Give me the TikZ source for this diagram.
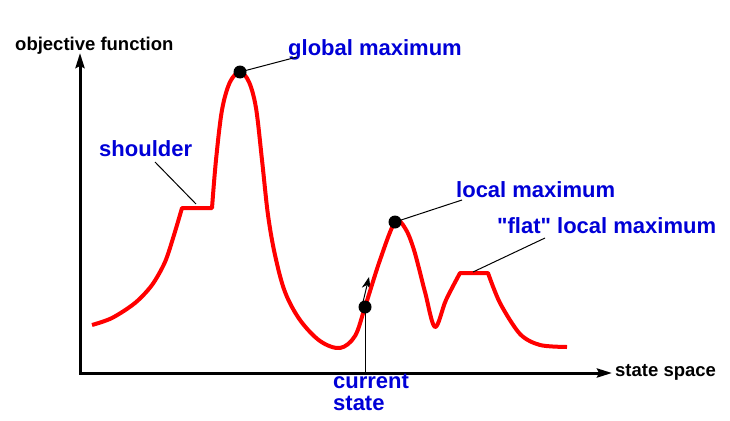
\documentclass[tikz,border=0pt]{standalone}
\usepackage{fontspec}
\setmainfont{Liberation Sans}[Ligatures=TeXOff]
\usetikzlibrary{arrows.meta}
\definecolor{labblue}{RGB}{0,0,215}
\begin{document}
\begin{tikzpicture}[x=1pt,y=-1pt,
  lab/.style={font=\fontsize{22}{26}\selectfont\bfseries, text=labblue, inner sep=0, anchor=base west},
  axlab/.style={font=\fontsize{18.5}{22}\selectfont\bfseries, inner sep=0, anchor=base west},
  axis/.style={line width=3pt, line join=miter, {Stealth[length=15pt,width=9pt,inset=2pt]}-{Stealth[length=15pt,width=9pt,inset=2pt]}},
  curve/.style={red, line width=4pt, line join=round},
  leader/.style={line width=1pt},
  dot/.style={circle, fill=black, minimum size=13pt, inner sep=0}]
\useasboundingbox (0,0) rectangle (730,420);

% axes
\coordinate (O) at (80,373);
\coordinate (Ytip) at (80,53);
\coordinate (Xtip) at (612,373);
\draw[axis] (Ytip) -- (O) -- (Xtip);
\node[axlab] (yl) at (15,51) {objective function};
\node[axlab] (xl) at (615,376) {state space};

% small arrow tip behind the curve
\coordinate (ab) at (363,302);
\coordinate (at) at (369,277);
\draw[line width=1pt, -{Stealth[length=12pt,width=9pt]}] (ab) -- (at);

% the curve
\draw[curve]
  plot[smooth, tension=0.5] coordinates {(92,325) (112,318) (135,303) (152,285) (165,262) (174,235) (182,208)}
  -- plot[smooth, tension=0.55] coordinates {(212,208) (216,160) (222,110) (230,82) (240,72) (249,82) (256,108) (262,160) (268,215) (275,255) (285,292) (300,320) (320,341) (340,348) (355,336) (365,307) (380,260) (395,222) (405,228) (414,250) (425,292) (435,327) (446,300) (460,273)}
  -- plot[smooth, tension=0.5] coordinates {(488,273) (500,303) (520,334) (540,345) (567,347)};

% labels
\node[lab] (gml) at (288,56) {global maximum};
\node[lab] (shl) at (99,156) {shoulder};
\node[lab] (lml) at (456,197) {local maximum};
\node[lab] (fll) at (497,233) {"flat" local maximum};
\node[lab] (csl1) at (333,388) {current};
\node[lab] (csl2) at (333,410) {state};

% points
\coordinate (gm) at (240,72);
\coordinate (lm) at (395,222);
\coordinate (cs) at (365,307);
\coordinate (sh) at (196,204);
\coordinate (fl) at (473,272);

% leaders
\draw[leader] (gm) -- ([xshift=9pt,yshift=-1pt]gml.base west);
\draw[leader] ([xshift=56pt,yshift=-6pt]shl.base west) -- (sh);
\draw[leader] (lm) -- ([xshift=6pt,yshift=-3pt]lml.base west);
\draw[leader] (fl) -- ([xshift=48pt,yshift=-5pt]fll.base west);
\draw[leader] (cs) -- (cs |- O);

% dots
\node[dot] (gmd) at (gm) {};
\node[dot] (lmd) at (lm) {};
\node[dot] (csd) at (cs) {};
\end{tikzpicture}
\end{document}
